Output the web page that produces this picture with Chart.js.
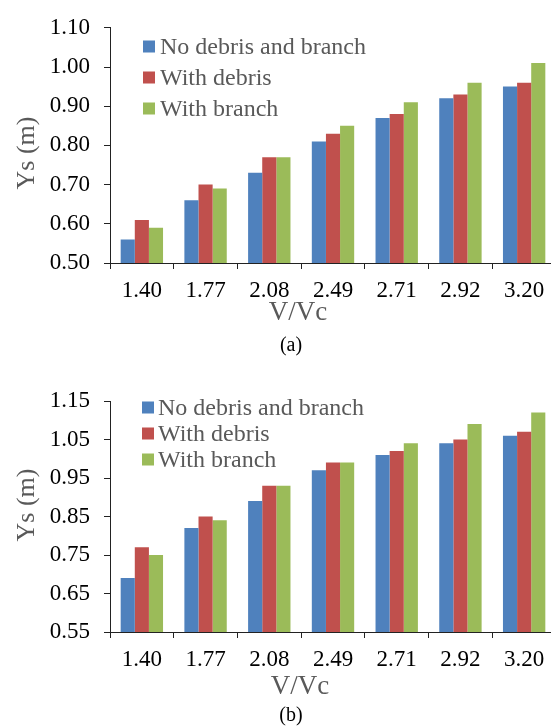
<!DOCTYPE html>
<html>
<head>
<meta charset="utf-8">
<script src="https://cdn.jsdelivr.net/npm/chart.js@4.4.1/dist/chart.umd.min.js"></script>
<style>
  html, body { margin: 0; padding: 0; background: #fff; }
  body { width: 551px; height: 727px; overflow: hidden; position: relative; font-family: "Liberation Serif", "Times New Roman", serif; }
  .box { position: absolute; left: 0; width: 560px; }
  .txt { position: absolute; white-space: nowrap; transform: translate(-50%, -50%); font-family: "Liberation Serif", "Times New Roman", serif; line-height: 1; }
  .ttl { color: #595959; }
  .yt { transform: translate(-50%, -50%) rotate(-90deg); }
</style>
</head>
<body>
<div class="box" style="top:0;height:300px;"><canvas id="chartA" width="560" height="300"></canvas></div>
<div class="box" style="top:370px;height:300px;"><canvas id="chartB" width="560" height="300"></canvas></div>

<div class="txt ttl yt" style="left:26px;top:153px;font-size:26px;">Ys (m)</div>
<div class="txt ttl" style="left:298px;top:311px;font-size:27px;">V/Vc</div>
<div class="txt" style="left:291px;top:344px;font-size:20px;">(a)</div>

<div class="txt ttl yt" style="left:26px;top:505px;font-size:26px;">Ys (m)</div>
<div class="txt ttl" style="left:300px;top:685px;font-size:27px;">V/Vc</div>
<div class="txt" style="left:291px;top:714px;font-size:20px;">(b)</div>

<script>
// ---- data ----
const categories = ['1.40', '1.77', '2.08', '2.49', '2.71', '2.92', '3.20'];
const seriesNames = ['No debris and branch', 'With debris', 'With branch'];
const seriesColors = ['#4F81BD', '#C0504D', '#9BBB59'];

// (a)
const aNoDebris   = [0.56, 0.66, 0.73, 0.81, 0.87, 0.92, 0.95];
const aWithDebris = [0.61, 0.70, 0.77, 0.83, 0.88, 0.93, 0.96];
const aWithBranch = [0.59, 0.69, 0.77, 0.85, 0.91, 0.96, 1.01];
const aYTicks = [0.50, 0.60, 0.70, 0.80, 0.90, 1.00, 1.10];

// (b)
const bNoDebris   = [0.69, 0.82, 0.89, 0.97, 1.01, 1.04, 1.06];
const bWithDebris = [0.77, 0.85, 0.93, 0.99, 1.02, 1.05, 1.07];
const bWithBranch = [0.75, 0.84, 0.93, 0.99, 1.04, 1.09, 1.12];
const bYTicks = [0.55, 0.65, 0.75, 0.85, 0.95, 1.05, 1.15];

// ---- legend drawn inside the plot from the chart's datasets ----
const insideLegend = {
  id: 'insideLegend',
  afterDraw(chart, args, opts) {
    const ctx = chart.ctx;
    ctx.save();
    ctx.font = opts.font;
    ctx.textBaseline = 'middle';
    ctx.textAlign = 'left';
    chart.data.datasets.forEach((ds, i) => {
      const y = opts.y + i * opts.dy;
      ctx.fillStyle = ds.backgroundColor;
      ctx.fillRect(opts.x, y - opts.box / 2, opts.box, opts.box);
      ctx.fillStyle = opts.color;
      ctx.fillText(ds.label, opts.textX, y + 1);
    });
    ctx.restore();
  }
};

const AXIS = '#222222';
const FONT = '"Liberation Serif", "Times New Roman", serif';

function makeChart(id, series, yTicks, top, xHeight, legendPos) {
  const datasets = series.map((vals, i) => ({
    label: seriesNames[i],
    data: vals,
    backgroundColor: seriesColors[i],
    borderWidth: 0,
    categoryPercentage: 0.665,
    barPercentage: 1.0
  }));
  const step = +(yTicks[1] - yTicks[0]).toFixed(4);
  return new Chart(document.getElementById(id), {
    type: 'bar',
    data: { labels: categories, datasets },
    plugins: [insideLegend],
    options: {
      responsive: false,
      animation: false,
      devicePixelRatio: 1,
      layout: { padding: { left: 0, right: 4, top: top, bottom: 0 } },
      plugins: {
        legend: { display: false },
        tooltip: { enabled: false },
        insideLegend: legendPos
      },
      scales: {
        x: {
          type: 'category',
          offset: true,
          grid: { display: true, offset: true, drawOnChartArea: false, drawTicks: true, tickLength: 6, color: AXIS, lineWidth: 1 },
          border: { display: true, color: AXIS, width: 1 },
          ticks: { color: '#000', font: { family: FONT, size: 23 }, padding: 8, maxRotation: 0, autoSkip: false },
          afterFit(scale) { scale.height = xHeight; }
        },
        y: {
          min: yTicks[0],
          max: yTicks[yTicks.length - 1],
          grid: { display: true, drawOnChartArea: false, drawTicks: true, tickLength: 6, color: AXIS, lineWidth: 1 },
          border: { display: true, color: AXIS, width: 1 },
          ticks: {
            stepSize: step,
            color: '#000',
            font: { family: FONT, size: 23 },
            padding: 14,
            callback: (v) => Number(v).toFixed(2)
          },
          afterFit(scale) { scale.width = 110; }
        }
      }
    }
  });
}

makeChart('chartA', [aNoDebris, aWithDebris, aWithBranch], aYTicks, 26, 37,
  { x: 143, textX: 160, y: 46.5, dy: 31, box: 12, font: '24px ' + FONT, color: '#595959' });
makeChart('chartB', [bNoDebris, bWithDebris, bWithBranch], bYTicks, 31, 38,
  { x: 142, textX: 158, y: 37.5, dy: 26, box: 12, font: '24px ' + FONT, color: '#595959' });
</script>
</body>
</html>
